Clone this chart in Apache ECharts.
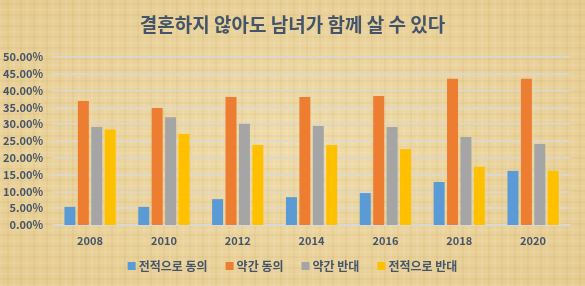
<!DOCTYPE html>
<html>
<head>
<meta charset="utf-8">
<script src="https://cdn.jsdelivr.net/npm/echarts@6/dist/echarts.min.js"></script>
<style>
  html, body { margin: 0; padding: 0; }
  body {
    background-color: #e8cf96;
    background-image:
      repeating-linear-gradient(90deg, rgba(255,255,255,0.08) 0 2px, rgba(0,0,0,0) 2px 7px, rgba(150,110,40,0.06) 7px 9px, rgba(0,0,0,0) 9px 13px),
      repeating-linear-gradient(0deg, rgba(255,255,255,0.07) 0 2px, rgba(0,0,0,0) 2px 6px, rgba(150,110,40,0.05) 6px 8px, rgba(0,0,0,0) 8px 11px),
      radial-gradient(ellipse at 50% 50%, #efdcaa 0%, #e6cb8f 100%);
  }
  #chart { width: 585px; height: 286px; }
</style>
</head>
<body>
<div id="chart"></div>
<script>
// 데이터
const years = ["2008", "2010", "2012", "2014", "2016", "2018", "2020"];
const stronglyAgree = [5.4, 5.4, 7.7, 8.3, 9.5, 12.8, 16.1];
const somewhatAgree = [36.9, 34.8, 38.1, 38.1, 38.4, 43.5, 43.5];
const somewhatDisagree = [29.2, 32.1, 30.1, 29.5, 29.2, 26.2, 24.1];
const stronglyDisagree = [28.4, 27.1, 23.8, 23.8, 22.6, 17.3, 16.1];

const seriesNames = ["전적으로 동의", "약간 동의", "약간 반대", "전적으로 반대"];
const seriesValues = [stronglyAgree, somewhatAgree, somewhatDisagree, stronglyDisagree];
const colors = ["#5b9bd5", "#ed7d31", "#a5a5a5", "#ffc000"];

const font = "'Noto Sans CJK KR', 'Noto Sans', sans-serif";
const textColor = "#44546a";

const chart = echarts.init(document.getElementById("chart"));
chart.setOption({
  animation: false,
  color: colors,
  title: {
    text: "결혼하지 않아도 남녀가 함께 살 수 있다",
    left: "center",
    top: 10,
    textStyle: { fontFamily: font, fontSize: 19, fontWeight: "bold", color: textColor }
  },
  grid: { left: 53, right: 15, top: 57, bottom: 61 },
  legend: {
    bottom: 9,
    left: "center",
    itemWidth: 8,
    itemHeight: 8,
    itemGap: 18,
    icon: "rect",
    textStyle: { fontFamily: font, fontSize: 12, fontWeight: "bold", color: textColor, padding: [0, 0, 0, -2] },
    data: seriesNames
  },
  xAxis: {
    type: "category",
    data: years,
    axisLine: { lineStyle: { color: "#d9d9d9", width: 1.5 } },
    axisTick: { show: false },
    axisLabel: { fontFamily: font, fontSize: 11, fontWeight: "bold", color: textColor, margin: 10 }
  },
  yAxis: {
    type: "value",
    min: 0,
    max: 50,
    interval: 5,
    axisLine: { show: false },
    axisTick: { show: false },
    splitLine: { lineStyle: { color: "#d9d9d9", width: 1.5 } },
    axisLabel: {
      fontFamily: font, fontSize: 11, fontWeight: "bold", color: textColor, margin: 10,
      formatter: v => v.toFixed(2) + "%"
    }
  },
  series: seriesValues.map((vals, i) => ({
    name: seriesNames[i],
    type: "bar",
    data: vals,
    barWidth: 11,
    barGap: "22%"
  }))
});
</script>
</body>
</html>
